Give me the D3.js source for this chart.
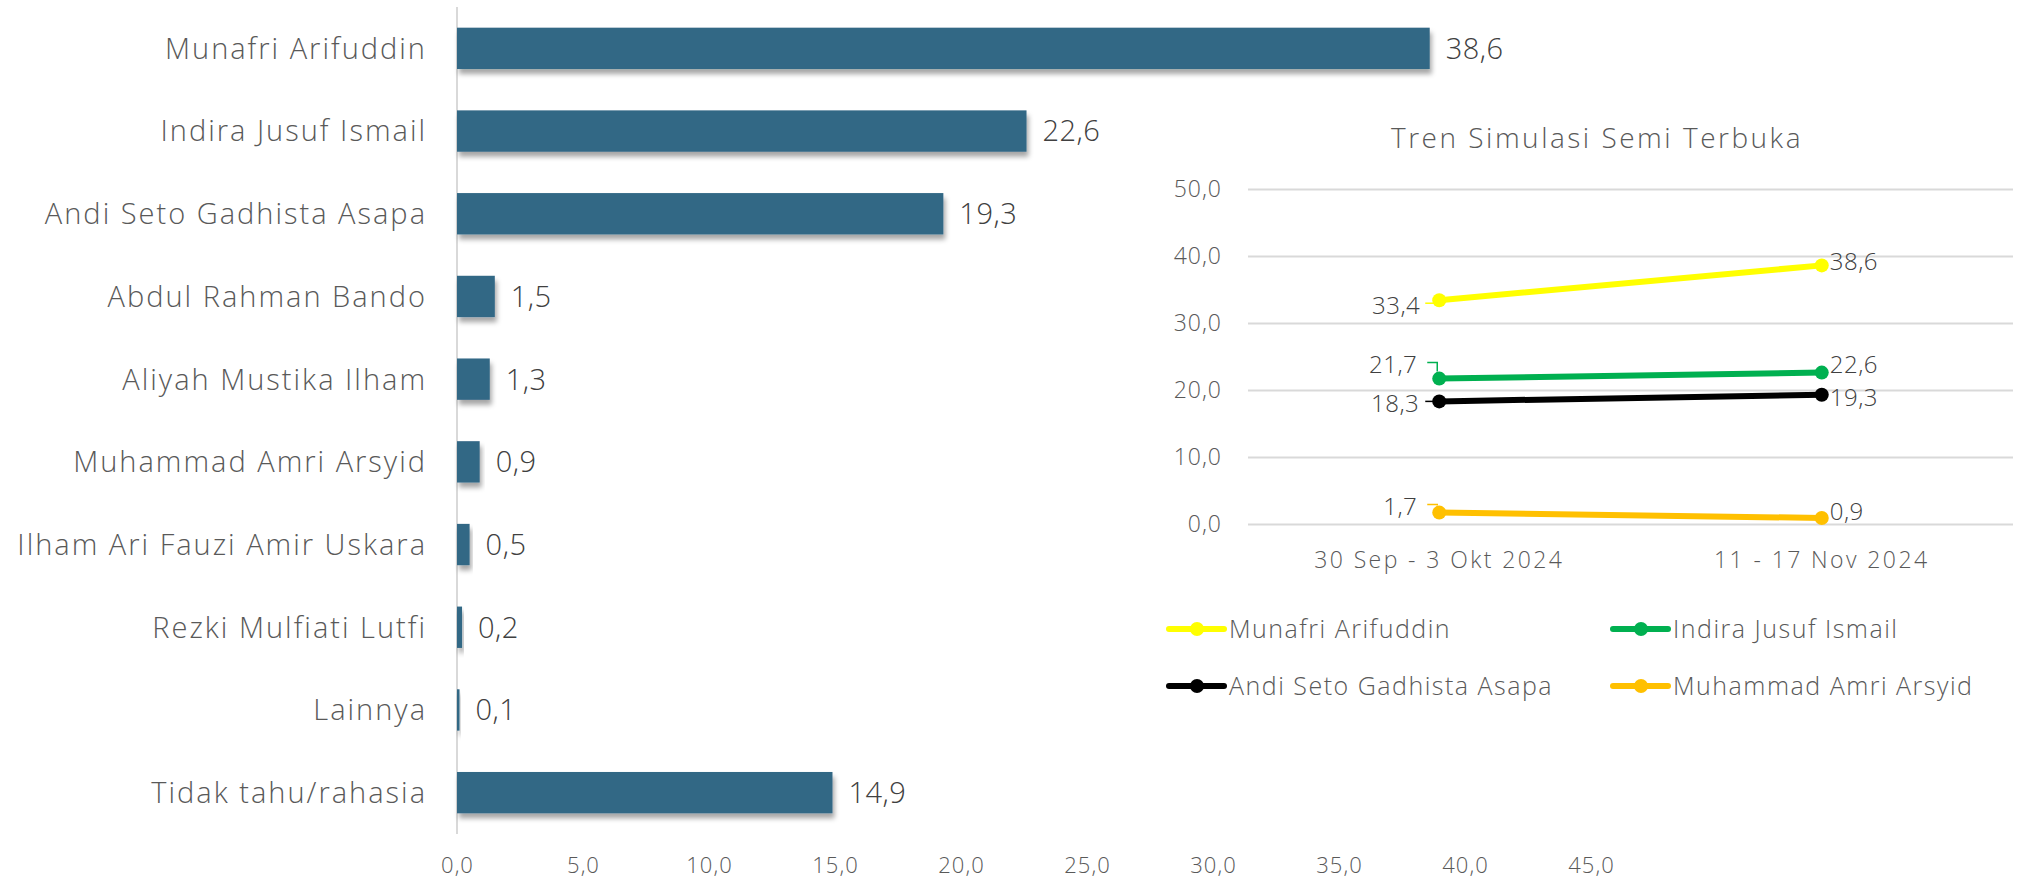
<!DOCTYPE html>
<html>
<head>
<meta charset="utf-8">
<style>
  body { margin: 0; background: #fff; }
  text { font-family: "Open Sans", "DejaVu Sans", sans-serif; }
</style>
</head>
<body>
<script src="https://cdn.jsdelivr.net/npm/d3@7"></script>
<script>
// data - bar chart
var candidates = ["Munafri Arifuddin", "Indira Jusuf Ismail", "Andi Seto Gadhista Asapa",
  "Abdul Rahman Bando", "Aliyah Mustika Ilham", "Muhammad Amri Arsyid",
  "Ilham Ari Fauzi Amir Uskara", "Rezki Mulfiati Lutfi", "Lainnya", "Tidak tahu/rahasia"];
var shares = [38.6, 22.6, 19.3, 1.5, 1.3, 0.9, 0.5, 0.2, 0.1, 14.9];
var barTicks = [0, 5, 10, 15, 20, 25, 30, 35, 40, 45];

// data - trend chart
var periods = ["30 Sep - 3 Okt 2024", "11 - 17 Nov 2024"];
var trendNames = ["Munafri Arifuddin", "Indira Jusuf Ismail", "Andi Seto Gadhista Asapa", "Muhammad Amri Arsyid"];
var munafri = [33.4, 38.6];
var indira = [21.7, 22.6];
var andi = [18.3, 19.3];
var amri = [1.7, 0.9];
var trendColors = ["#FFFF00", "#00B050", "#000000", "#FFC000"];
var trendTicks = [0, 10, 20, 30, 40, 50];

var width = 2018, height = 881;
var fmt = function(v){ return d3.format(".1f")(v).replace(".", ","); };

var svg = d3.select("body").append("svg")
  .attr("width", width)
  .attr("height", height);

var defs = svg.append("defs");
var shadow = defs.append("filter").attr("id", "shadow")
  .attr("x", "-10%").attr("y", "-20%").attr("width", "130%").attr("height", "160%");
shadow.append("feDropShadow")
  .attr("dx", 2).attr("dy", 5).attr("stdDeviation", 2.5)
  .attr("flood-color", "#000").attr("flood-opacity", 0.35);

// ---------- bar chart ----------
var x = d3.scaleLinear().domain([0, 45]).range([457, 1591]);
var y = d3.scaleBand().domain(candidates).range([7, 834])
  .paddingInner(0.5).paddingOuter(0.25);

svg.append("line")
  .attr("x1", x(0)).attr("x2", x(0))
  .attr("y1", 7).attr("y2", 834)
  .attr("stroke", "#d9d9d9").attr("stroke-width", 2);

var bars = svg.selectAll(".bar")
  .data(candidates)
  .enter().append("g").attr("class", "bar");

bars.append("rect")
  .attr("x", x(0))
  .attr("y", function(d){ return y(d); })
  .attr("width", function(d, i){ return x(shares[i]) - x(0); })
  .attr("height", y.bandwidth())
  .attr("fill", "#326785")
  .attr("filter", "url(#shadow)");

bars.append("text")
  .attr("x", function(d, i){ return x(shares[i]) + 16; })
  .attr("y", function(d){ return y(d) + y.bandwidth()/2; })
  .attr("dy", "0.36em")
  .attr("font-size", 29)
  .attr("font-weight", 300)
  .attr("letter-spacing", 0.5)
  .attr("fill", "#404040")
  .text(function(d, i){ return fmt(shares[i]); });

bars.append("text")
  .attr("x", 427)
  .attr("y", function(d){ return y(d) + y.bandwidth()/2; })
  .attr("dy", "0.36em")
  .attr("text-anchor", "end")
  .attr("font-size", 29)
  .attr("font-weight", 300)
  .attr("letter-spacing", 2)
  .attr("fill", "#595959")
  .text(function(d){ return d; });

var xAxis = svg.append("g")
  .attr("transform", "translate(0,865)")
  .call(d3.axisBottom(x).tickValues(barTicks).tickSize(0).tickPadding(0).tickFormat(fmt));
xAxis.select(".domain").remove();
xAxis.selectAll("text")
  .attr("dy", "0.36em")
  .attr("font-size", 22)
  .attr("font-weight", 300)
  .attr("letter-spacing", 1)
  .attr("fill", "#595959")
  .style("font-family", '"Open Sans", sans-serif');

// ---------- trend chart ----------
var tx = d3.scaleBand().domain(periods).range([1248, 2013]);
var ty = d3.scaleLinear().domain([0, 50]).range([524, 189]);
var px = function(i){ return tx(periods[i]) + tx.bandwidth()/2; };

svg.append("text")
  .attr("x", 1597).attr("y", 138)
  .attr("dy", "0.36em")
  .attr("text-anchor", "middle")
  .attr("font-size", 28)
  .attr("font-weight", 300)
  .attr("letter-spacing", 2.5)
  .attr("fill", "#595959")
  .text("Tren Simulasi Semi Terbuka");

var yAxis = svg.append("g")
  .attr("transform", "translate(1248,0)")
  .call(d3.axisLeft(ty).tickValues(trendTicks).tickSize(-765).tickPadding(26).tickFormat(fmt));
yAxis.select(".domain").remove();
yAxis.selectAll("line").attr("stroke", "#d9d9d9").attr("stroke-width", 2);
yAxis.selectAll("text")
  .attr("font-size", 23)
  .attr("font-weight", 300)
  .attr("letter-spacing", 1)
  .attr("fill", "#595959")
  .style("font-family", '"Open Sans", sans-serif');

var xAxis2 = svg.append("g")
  .attr("transform", "translate(0,560)")
  .call(d3.axisBottom(tx).tickSize(0).tickPadding(0));
xAxis2.select(".domain").remove();
xAxis2.selectAll("text")
  .attr("dy", "0.36em")
  .attr("font-size", 23)
  .attr("font-weight", 300)
  .attr("letter-spacing", 2.4)
  .attr("fill", "#595959")
  .style("font-family", '"Open Sans", sans-serif');

var series = [munafri, indira, andi, amri];
var line = d3.line()
  .x(function(d, i){ return px(i); })
  .y(function(d){ return ty(d); });

// label offsets: [left dx, left dy, right dy] relative to point
var labelShift = [[-19, 5, -4], [-22, -14, -8], [-20, 2, 3], [-22, -6, -7]];

series.forEach(function(vals, s){
  var g = svg.append("g");
  g.append("path")
    .attr("d", line(vals))
    .attr("fill", "none")
    .attr("stroke", trendColors[s])
    .attr("stroke-width", 6)
    .attr("stroke-linecap", "round");
  g.selectAll("circle").data(vals).enter().append("circle")
    .attr("cx", function(d, i){ return px(i); })
    .attr("cy", function(d){ return ty(d); })
    .attr("r", 7)
    .attr("fill", trendColors[s]);

  // leader line for the left label
  var lx = px(0), ly = ty(vals[0]);
  var sh = labelShift[s];
  var ld = sh[1] < -3
    ? "M" + (lx - 12) + "," + (ly + sh[1] - 2) + "H" + (lx - 2) + "V" + (ly - 7)
    : "M" + (lx - 14) + "," + (ly + sh[1] - 2) + "H" + (lx - 4);
  g.append("path").attr("d", ld)
    .attr("fill", "none").attr("stroke", trendColors[s]).attr("stroke-width", 1.5);

  g.append("text")
    .attr("x", lx + sh[0])
    .attr("y", ly + sh[1])
    .attr("dy", "0.36em")
    .attr("text-anchor", "end")
    .attr("font-size", 24)
    .attr("font-weight", 300)
    .attr("letter-spacing", 0.5)
    .attr("fill", "#404040")
    .text(fmt(vals[0]));
  g.append("text")
    .attr("x", px(1) + 8)
    .attr("y", ty(vals[1]) + sh[2])
    .attr("dy", "0.36em")
    .attr("font-size", 24)
    .attr("font-weight", 300)
    .attr("letter-spacing", 0.5)
    .attr("fill", "#404040")
    .text(fmt(vals[1]));
});

// legend
var legendX = [1169, 1613], legendY = [629, 686];
var legend = svg.selectAll(".legend")
  .data(trendNames)
  .enter().append("g")
  .attr("transform", function(d, i){
    return "translate(" + legendX[i % 2] + "," + legendY[Math.floor(i / 2)] + ")";
  });
legend.append("line")
  .attr("x1", 0).attr("x2", 55)
  .attr("stroke", function(d, i){ return trendColors[i]; })
  .attr("stroke-width", 6).attr("stroke-linecap", "round");
legend.append("circle")
  .attr("cx", 28).attr("r", 7)
  .attr("fill", function(d, i){ return trendColors[i]; });
legend.append("text")
  .attr("x", 60)
  .attr("dy", "0.36em")
  .attr("font-size", 25)
  .attr("font-weight", 300)
  .attr("letter-spacing", 1.5)
  .attr("fill", "#595959")
  .text(function(d){ return d; });
</script>
</body>
</html>
